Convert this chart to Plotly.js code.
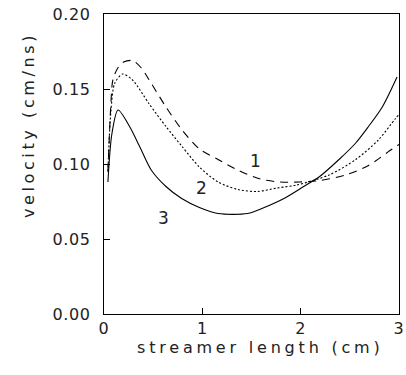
<!DOCTYPE html>
<html><head><meta charset="utf-8">
<script src="https://cdn.plot.ly/plotly-3.0.1.min.js"></script>
<style>
html,body{margin:0;padding:0;background:#fff}
#c{width:406px;height:375px}
#c .ytick text, #c .xtick text{letter-spacing:0.6px}
#c .annotation[data-index="3"] text{letter-spacing:3.8px}
#c .annotation[data-index="4"] text{letter-spacing:3.6px}
</style>
</head><body><div id="c"></div>
<script>
// curve 1 (dashed)
const x1 = [0.04, 0.07, 0.09, 0.14, 0.20, 0.29, 0.38, 0.46, 0.63, 0.79, 0.97, 1.16, 1.36, 1.59, 1.79, 1.99, 2.20, 2.46, 2.69, 2.93, 3.0];
const v1 = [0.095, 0.140, 0.156, 0.164, 0.168, 0.169, 0.164, 0.156, 0.138, 0.123, 0.110, 0.103, 0.096, 0.090, 0.088, 0.088, 0.089, 0.0927, 0.099, 0.110, 0.113];
// curve 2 (dotted)
const x2 = [0.04, 0.07, 0.11, 0.19, 0.29, 0.46, 0.63, 0.79, 0.97, 1.16, 1.36, 1.56, 1.76, 1.96, 2.29, 2.56, 2.79, 2.96, 3.0];
const v2 = [0.095, 0.135, 0.154, 0.160, 0.156, 0.140, 0.125, 0.112, 0.098, 0.088, 0.083, 0.0817, 0.084, 0.086, 0.0927, 0.103, 0.116, 0.130, 0.133];
// curve 3 (solid)
const x3 = [0.04, 0.08, 0.143, 0.26, 0.36, 0.48, 0.63, 0.79, 0.97, 1.16, 1.46, 1.63, 1.83, 2.03, 2.19, 2.39, 2.56, 2.69, 2.83, 2.98];
const v3 = [0.088, 0.120, 0.136, 0.125, 0.112, 0.096, 0.085, 0.077, 0.071, 0.067, 0.067, 0.071, 0.077, 0.085, 0.0915, 0.103, 0.114, 0.125, 0.138, 0.158];
const labels = ["1", "2", "3"];
const labelX = [1.54, 0.99, 0.61];
const labelY = [0.102, 0.084, 0.064];
const xTicks = [0, 1, 2, 3];
const yTicks = [0.00, 0.05, 0.10, 0.15, 0.20];
const yTickText = ["0.00", "0.05", "0.10", "0.15", "0.20"];
const xTitle = "streamer length (cm)";
const yTitle = "velocity (cm/ns)";

const line = (d) => ({color: "#000", width: 1.1, dash: d, shape: "spline", smoothing: 0.8});
const data = [
  {x: x1, y: v1, mode: "lines", line: line("8px,6px")},
  {x: x2, y: v2, mode: "lines", line: line("2px,2px")},
  {x: x3, y: v3, mode: "lines", line: line("solid")}
];
const axisCommon = {ticks: "inside", ticklen: 6, tickcolor: "#000", showline: true, mirror: true,
  linecolor: "#000", linewidth: 1.2, showgrid: false, zeroline: false, tickfont: {size: 16},
  ticklabeloverflow: "allow"};
const layout = {
  width: 406, height: 375,
  margin: {l: 104, r: 7, t: 14, b: 61},
  paper_bgcolor: "#fff", plot_bgcolor: "#fff",
  showlegend: false,
  font: {family: "DejaVu Sans", size: 16, color: "#222"},
  xaxis: Object.assign({range: [0, 3], tickvals: xTicks, ticktext: xTicks.map(String), ticklabelstandoff: 0}, axisCommon),
  yaxis: Object.assign({range: [0, 0.2], tickvals: yTicks, ticktext: yTickText, ticklabelstandoff: 9}, axisCommon),
  annotations: labels.map((t, i) => ({x: labelX[i], y: labelY[i], text: t, showarrow: false, font: {size: 17}}))
    .concat([
      {xref: "paper", yref: "paper", x: 0.53, y: -0.113, xanchor: "center", yanchor: "middle",
       text: xTitle, showarrow: false, font: {size: 16}},
      {xref: "paper", yref: "paper", x: -0.257, y: 0.63, xanchor: "center", yanchor: "middle",
       text: yTitle, textangle: -90, showarrow: false, font: {size: 16}}
    ])
};
Plotly.newPlot("c", data, layout, {staticPlot: true, displayModeBar: false});
</script></body></html>
